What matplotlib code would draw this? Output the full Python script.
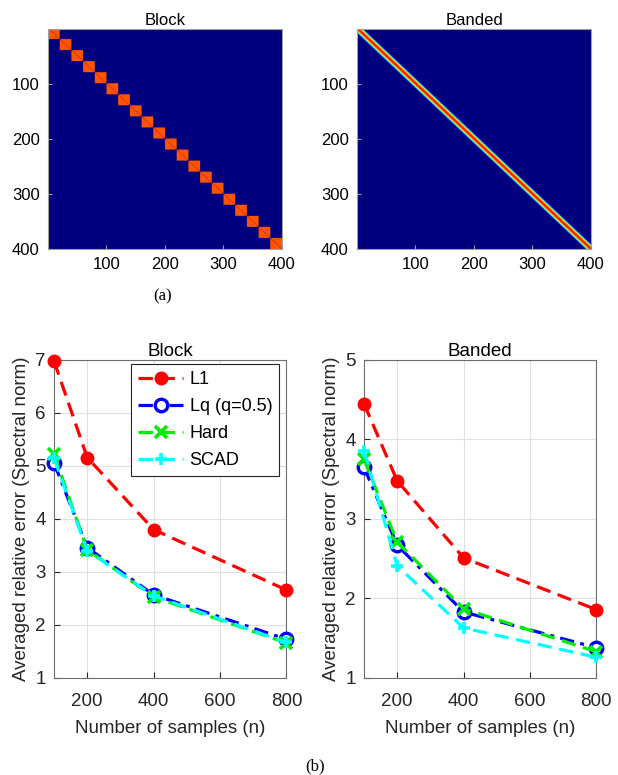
import numpy as np
import matplotlib
matplotlib.use("Agg")
import matplotlib.pyplot as plt

plt.rcParams['font.family'] = ['Liberation Sans', 'DejaVu Sans']

# data
p = 400
block_size = 20
block_off = 0.82
block_diag = 0.95
# banded matrix entries by distance from the diagonal
band_vals = [0.9, 0.88, 0.85, 0.8, 0.72, 0.62, 0.5, 0.38, 0.25, 0.12]

n_samples = [100, 200, 400, 800]
methods = ['L1', 'Lq (q=0.5)', 'Hard', 'SCAD']
block_err = {
    'L1': [6.98, 5.16, 3.80, 2.66],
    'Lq (q=0.5)': [5.06, 3.46, 2.57, 1.73],
    'Hard': [5.22, 3.42, 2.53, 1.66],
    'SCAD': [5.15, 3.40, 2.55, 1.67],
}
banded_err = {
    'L1': [4.45, 3.48, 2.51, 1.86],
    'Lq (q=0.5)': [3.65, 2.67, 1.83, 1.38],
    'Hard': [3.75, 2.71, 1.87, 1.33],
    'SCAD': [3.86, 2.41, 1.63, 1.26],
}
styles = {
    'L1': dict(color='red', dashes=(4.5, 2.4), marker='o', mfc='red', mec='red'),
    'Lq (q=0.5)': dict(color='blue', dashes=(4.5, 2.0, 1.2, 2.0), marker='o',
                       mfc='white', mec='blue', mew=2.4),
    'Hard': dict(color='#00ee00', dashes=(4.5, 2.4), marker='x', mec='#00ee00', mew=2.6),
    'SCAD': dict(color='cyan', dashes=(4.5, 2.4), marker='+', mec='cyan', mew=2.6),
}

# build matrices
idx = np.arange(p)
blk = idx // block_size
M_block = np.where(blk[:, None] == blk[None, :], block_off, 0.0)
M_block[idx, idx] = block_diag
d = np.abs(idx[:, None] - idx[None, :])
M_band = np.zeros((p, p))
for k, v in enumerate(band_vals):
    M_band[d == k] = v

fig = plt.figure(figsize=(6.18, 7.75), dpi=100)

edge = '#a0a0a0'
tick_col = '#262626'

# top images
for M, title, left in [(M_block, 'Block', 0.0777), (M_band, 'Banded', 0.5777)]:
    ax = fig.add_axes([left, 0.6787, 0.3786, 0.2839])
    ax.imshow(M, cmap='jet', vmin=0, vmax=1, extent=[0.5, p + 0.5, p + 0.5, 0.5],
              aspect='auto', interpolation='antialiased')
    ax.set_xticks([100, 200, 300, 400])
    ax.set_yticks([100, 200, 300, 400])
    ax.tick_params(direction='in', length=3, labelsize=12, colors=edge,
                   labelcolor='black', pad=6)
    for s in ax.spines.values():
        s.set_color(edge)
    ax.set_title(title, fontsize=12, pad=3)

fig.text(0.2637, 0.618, '(a)', ha='center', va='center', fontsize=12,
         family=['Liberation Serif', 'DejaVu Serif'])

# bottom line plots
for data, title, left, ylim, yt in [
        (block_err, 'Block', 0.0874, (1, 7), range(1, 8)),
        (banded_err, 'Banded', 0.589, (1, 5), range(1, 6))]:
    ax = fig.add_axes([left, 0.1252, 0.376, 0.4103])
    for m in methods:
        st = dict(styles[m])
        ax.plot(n_samples, data[m], lw=2.3, ms=9, label=m, clip_on=False,
                zorder=3, **st)
    ax.set_xlim(100, 800)
    ax.set_ylim(*ylim)
    ax.set_xticks([200, 400, 600, 800])
    ax.set_yticks(list(yt))
    ax.grid(True, color='#e0e0e0', lw=0.8)
    ax.set_axisbelow(True)
    ax.tick_params(direction='in', length=4, labelsize=13.5, colors=tick_col,
                   labelcolor=tick_col, pad=6)
    ax.tick_params(axis='x', pad=11)
    for s in ax.spines.values():
        s.set_color('#6e6e6e')
    ax.set_title(title, fontsize=13.5, pad=2)
    ax.set_xlabel('Number of samples (n)', fontsize=13.5, color=tick_col, labelpad=7)
    ax.set_ylabel('Averaged relative error (Spectral norm)', fontsize=13.5,
                  color=tick_col, labelpad=4)
    if title == 'Block':
        leg = ax.legend(loc='upper right', fontsize=13, handlelength=2.5,
                        handletextpad=0.35, borderpad=0.4, borderaxespad=0,
                        labelspacing=0.55, fancybox=False, framealpha=1,
                        edgecolor='#262626', bbox_to_anchor=(0.97, 0.987))
        leg.get_frame().set_linewidth(0.8)

fig.text(0.51, 0.0116, '(b)', ha='center', va='center', fontsize=12,
         family=['Liberation Serif', 'DejaVu Serif'])

fig.savefig('out.png', dpi=100)
